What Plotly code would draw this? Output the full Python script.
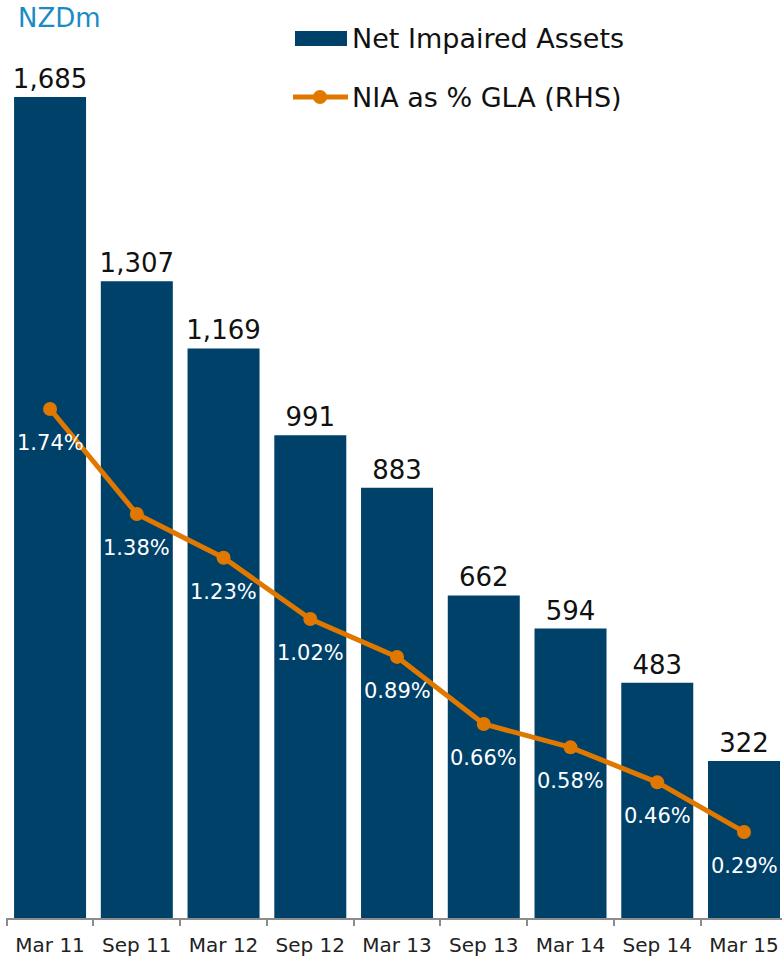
import plotly.graph_objects as go

categories = ["Mar 11", "Sep 11", "Mar 12", "Sep 12", "Mar 13", "Sep 13", "Mar 14", "Sep 14", "Mar 15"]
net_impaired_assets = [1685, 1307, 1169, 991, 883, 662, 594, 483, 322]
nia_pct_gla = [1.74, 1.38, 1.23, 1.02, 0.89, 0.66, 0.58, 0.46, 0.29]
bar_labels = [f"{v:,}" for v in net_impaired_assets]
pct_labels = [f"{v:.2f}%" for v in nia_pct_gla]

BAR_COLOR = "#00416A"
LINE_COLOR = "#E07800"
FONT = "DejaVu Sans"

W, H = 782, 960
ML, MR, MT, MB = 6, 0, 0, 42
PW, PH = W - ML - MR, H - MT - MB


def px_x(sx):
    return (sx - ML) / PW


def px_y(sy):
    return (MT + PH - sy) / PH


fig = go.Figure()
fig.add_trace(go.Bar(
    x=categories, y=net_impaired_assets, name="Net Impaired Assets",
    marker=dict(color=BAR_COLOR, line=dict(width=0)), width=0.83,
    text=bar_labels, textposition="outside", constraintext="none",
    textfont=dict(family=FONT, size=26, color="#111111"),
    cliponaxis=False, showlegend=False, hoverinfo="x+y",
))
fig.add_trace(go.Scatter(
    x=categories, y=nia_pct_gla, yaxis="y2", name="NIA as % GLA (RHS)",
    mode="lines+markers", line=dict(color=LINE_COLOR, width=5),
    marker=dict(color=LINE_COLOR, size=14), showlegend=False, cliponaxis=False,
))

annotations = []
for c, v, t in zip(categories, nia_pct_gla, pct_labels):
    annotations.append(dict(x=c, y=v, xref="x", yref="y2", text=t, showarrow=False,
                            yshift=-34, xanchor="center", yanchor="middle",
                            font=dict(family=FONT, size=21, color="white")))

annotations.append(dict(x=px_x(16), y=px_y(18), xref="paper", yref="paper", text="NZDm",
                        showarrow=False, xanchor="left", yanchor="middle",
                        font=dict(family=FONT, size=26, color="#1B8BC6")))

# legend (drawn manually to match the wide swatches)
annotations.append(dict(x=px_x(350), y=px_y(39), xref="paper", yref="paper",
                        text="Net Impaired Assets", showarrow=False, xanchor="left", yanchor="middle",
                        font=dict(family=FONT, size=27, color="#111111")))
annotations.append(dict(x=px_x(350), y=px_y(97), xref="paper", yref="paper",
                        text="NIA as % GLA (RHS)", showarrow=False, xanchor="left", yanchor="middle",
                        font=dict(family=FONT, size=27, color="#111111")))

shapes = [
    dict(type="rect", xref="paper", yref="paper", x0=px_x(295), x1=px_x(347), y0=px_y(31), y1=px_y(46),
         fillcolor=BAR_COLOR, line=dict(width=0)),
    dict(type="line", xref="paper", yref="paper", x0=px_x(293), x1=px_x(348), y0=px_y(97), y1=px_y(97),
         line=dict(color=LINE_COLOR, width=5)),
    dict(type="circle", xref="paper", yref="paper", x0=px_x(313), x1=px_x(327), y0=px_y(90), y1=px_y(104),
         fillcolor=LINE_COLOR, line=dict(width=0)),
]

fig.update_layout(
    width=W, height=H,
    margin=dict(l=ML, r=MR, t=MT, b=MB, autoexpand=False),
    paper_bgcolor="white", plot_bgcolor="white",
    font=dict(family=FONT),
    showlegend=False,
    xaxis=dict(type="category", range=[-0.508, 8.438], showgrid=False, automargin=False,
               showline=True, linecolor="#8C8C8C", linewidth=1.5,
               ticks="outside", tickson="boundaries", ticklen=6, tickcolor="#8C8C8C", tickwidth=1.5,
               ticklabelstandoff=8,
               tickfont=dict(family=FONT, size=20, color="#222222")),
    yaxis=dict(range=[0, 1884.1], visible=False, showgrid=False, zeroline=False),
    yaxis2=dict(range=[-0.005, 3.142], overlaying="y", side="right", visible=False,
                showgrid=False, zeroline=False),
    annotations=annotations,
    shapes=shapes,
)

fig.write_html(
    "out.html",
    config={"displayModeBar": False},
    post_script="document.body.style.margin='0';document.body.style.overflow='hidden';",
)
